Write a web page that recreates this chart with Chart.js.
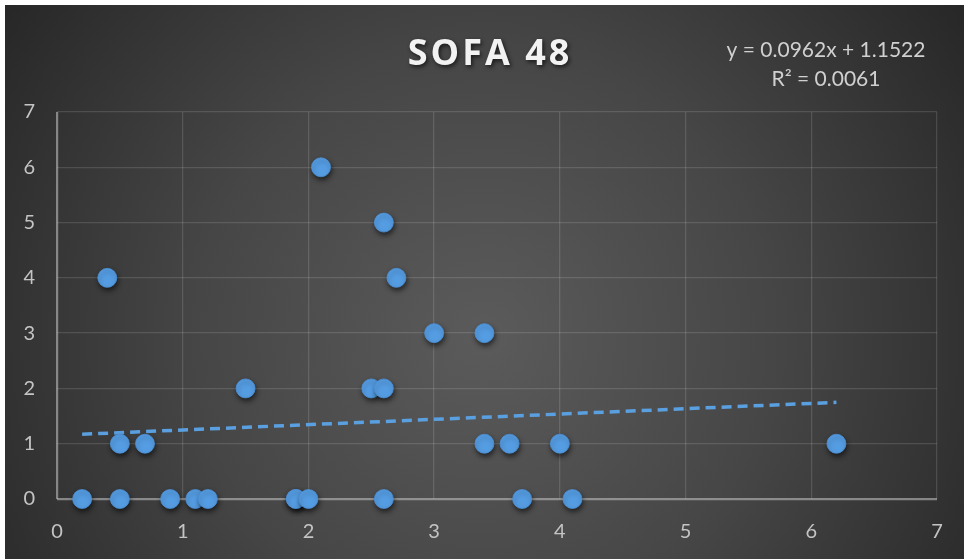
<!DOCTYPE html>
<html>
<head>
<meta charset="utf-8">
<title>SOFA 48</title>
<script src="https://cdn.jsdelivr.net/npm/chart.js@4/dist/chart.umd.min.js"></script>
<style>
  html, body { margin: 0; padding: 0; background: #ffffff; }
  #wrap { position: absolute; left: 5px; top: 5px; width: 959px; height: 554px; }
</style>
</head>
<body>
<div id="wrap"><canvas id="chart" width="959" height="554"></canvas></div>
<script>
// Observations: x value and SOFA score at 48 h
const xValues = [0.2, 0.4, 0.5, 0.5, 0.7, 0.9, 1.1, 1.2, 1.5, 1.9, 1.9, 2.0, 2.1, 2.5, 2.6, 2.6, 2.6, 2.7, 3.0, 3.4, 3.4, 3.6, 3.7, 4.0, 4.1, 6.2];
const yValues = [0,   4,   1,   0,   1,   0,   0,   0,   2,   0,   0,   0,   6,   2,   5,   2,   0,   4,   3,   3,   1,   1,   0,   1,   0,   1];

// Linear trendline as reported on the chart
const trendSlope = 0.0962;
const trendIntercept = 1.1522;
const trendR2 = '0.0061';

const chartTitle = 'SOFA 48';
const equationLines = ['y = 0.0962x + 1.1522', 'R\u00B2 = ' + trendR2];

const axisTicks = [0, 1, 2, 3, 4, 5, 6, 7];

const points = xValues.map((x, i) => ({ x: x, y: yValues[i] }));
const xMin = Math.min(...xValues);
const xMax = Math.max(...xValues);
const trendPoints = [
  { x: xMin, y: trendSlope * xMin + trendIntercept },
  { x: xMax, y: trendSlope * xMax + trendIntercept }
];

// Dark radial backdrop behind the whole chart
const backdrop = {
  id: 'backdrop',
  beforeDraw(chart) {
    const { ctx, width, height } = chart;
    const g = ctx.createRadialGradient(480, 330, 0, 480, 330, 640);
    g.addColorStop(0, '#5b5b5b');
    g.addColorStop(0.45, '#464646');
    g.addColorStop(1, '#212121');
    ctx.save();
    ctx.fillStyle = g;
    ctx.fillRect(0, 0, width, height);
    ctx.restore();
  }
};

// Title and trendline equation
const headings = {
  id: 'headings',
  afterDraw(chart) {
    const ctx = chart.ctx;
    ctx.save();
    ctx.textAlign = 'center';
    ctx.textBaseline = 'middle';
    ctx.shadowColor = 'rgba(0,0,0,0.65)';
    ctx.shadowBlur = 4;
    ctx.shadowOffsetX = 1.5;
    ctx.shadowOffsetY = 2;
    ctx.fillStyle = '#f2f2f2';
    ctx.font = 'bold 36px "Open Sans", sans-serif';
    if ('letterSpacing' in ctx) ctx.letterSpacing = '3px';
    ctx.fillText(chartTitle, 485, 50);
    ctx.restore();

    ctx.save();
    ctx.textAlign = 'center';
    ctx.textBaseline = 'middle';
    ctx.fillStyle = '#d0d0d0';
    ctx.font = '21px Lato, sans-serif';
    ctx.fillText(equationLines[0], 821, 45);
    ctx.fillText(equationLines[1], 821, 74);
    ctx.restore();
  }
};

// Soft drop shadow under the markers
const markerShadow = {
  id: 'markerShadow',
  beforeDatasetDraw(chart, args) {
    if (args.index !== 0) return;
    const ctx = chart.ctx;
    ctx.save();
    ctx.shadowColor = 'rgba(0,0,0,0.55)';
    ctx.shadowBlur = 5;
    ctx.shadowOffsetX = 1;
    ctx.shadowOffsetY = 3;
  },
  afterDatasetDraw(chart, args) {
    if (args.index !== 0) return;
    chart.ctx.restore();
  }
};

const gridColor = (c) => (c.tick && c.tick.value === 0) ? 'rgba(190,190,190,0.6)' : 'rgba(255,255,255,0.13)';
const gridWidth = (c) => (c.tick && c.tick.value === 0) ? 2.2 : 1.3;

new Chart(document.getElementById('chart'), {
  type: 'scatter',
  data: {
    datasets: [
      {
        label: chartTitle,
        data: points,
        pointRadius: 9.5,
        pointHoverRadius: 9.5,
        pointBackgroundColor: '#559de3',
        pointBorderColor: '#4c92d8',
        pointBorderWidth: 0.8,
        clip: false
      },
      {
        type: 'line',
        label: 'Trend',
        data: trendPoints,
        borderColor: '#5aa0e0',
        borderWidth: 3.5,
        borderDash: [10, 6],
        borderCapStyle: 'butt',
        pointRadius: 0,
        fill: false,
        clip: false
      }
    ]
  },
  options: {
    responsive: false,
    animation: false,
    layout: { padding: { left: 0, right: 27, top: 107, bottom: 0 } },
    plugins: {
      legend: { display: false },
      tooltip: { enabled: false },
      title: { display: false }
    },
    scales: {
      x: {
        type: 'linear',
        min: 0,
        max: 7,
        afterFit(scale) { scale.height = 60; },
        afterBuildTicks(scale) { scale.ticks = axisTicks.map(v => ({ value: v })); },
        border: { display: false },
        grid: { color: gridColor, lineWidth: gridWidth, drawTicks: false },
        ticks: {
          color: '#c4c4c4',
          padding: 21,
          font: { family: 'Lato, sans-serif', size: 20 }
        }
      },
      y: {
        type: 'linear',
        min: 0,
        max: 7,
        afterFit(scale) { scale.width = 52; },
        afterBuildTicks(scale) { scale.ticks = axisTicks.map(v => ({ value: v })); },
        border: { display: false },
        grid: { color: gridColor, lineWidth: gridWidth, drawTicks: false },
        ticks: {
          color: '#c4c4c4',
          padding: 22,
          font: { family: 'Lato, sans-serif', size: 20 }
        }
      }
    }
  },
  plugins: [backdrop, headings, markerShadow]
});
</script>
</body>
</html>
